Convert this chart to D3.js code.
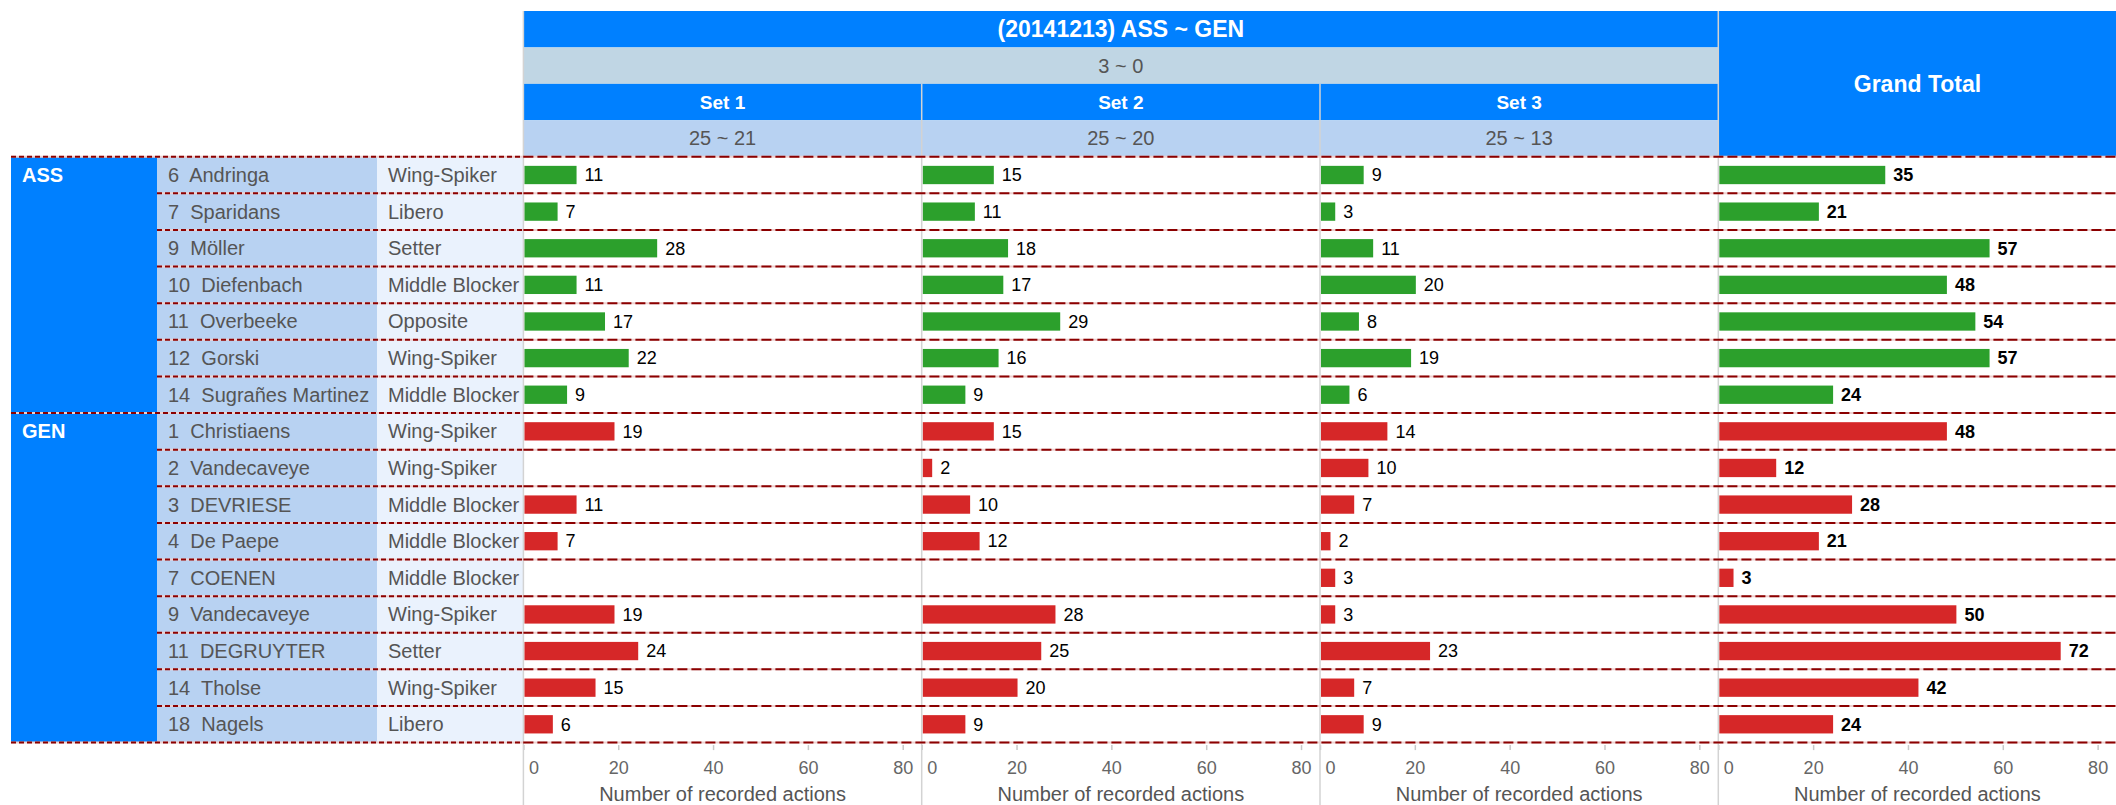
<!DOCTYPE html>
<html lang="en">
<head>
<meta charset="UTF-8">
<title>ASS ~ GEN recorded actions</title>
<script src="https://d3js.org/d3.v7.min.js"></script>
<style>
    body { margin: 0; background: #fff; }
    svg { display: block; font-family: "Liberation Sans", Arial, sans-serif; }
    .cell-text { fill: #555; font-size: 20px; white-space: pre; }
    .head-bold { fill: #fff; font-weight: bold; }
    .row-line { fill: none; stroke: #8b0000; stroke-width: 2px; }
    .row-under { fill: none; stroke: #efcfcf; stroke-width: 2px; }
    .sep { stroke: #d3d3d3; stroke-width: 1.5px; }
</style>
</head>
<body>
<div id="chart"></div>
<script>
    // match info
    var matchTitle = "(20141213) ASS ~ GEN";
    var matchScore = "3 ~ 0";
    var setNames = ["Set 1", "Set 2", "Set 3"];
    var setScores = ["25 ~ 21", "25 ~ 20", "25 ~ 13"];
    var totalName = "Grand Total";

    // roster
    var teams = ["ASS", "GEN"];
    var playerTeam = ["ASS", "ASS", "ASS", "ASS", "ASS", "ASS", "ASS",
                      "GEN", "GEN", "GEN", "GEN", "GEN", "GEN", "GEN", "GEN", "GEN"];
    var players = ["6  Andringa", "7  Sparidans", "9  Möller", "10  Diefenbach", "11  Overbeeke",
                   "12  Gorski", "14  Sugrañes Martinez",
                   "1  Christiaens", "2  Vandecaveye", "3  DEVRIESE", "4  De Paepe", "7  COENEN",
                   "9  Vandecaveye", "11  DEGRUYTER", "14  Tholse", "18  Nagels"];
    var positions = ["Wing-Spiker", "Libero", "Setter", "Middle Blocker", "Opposite",
                     "Wing-Spiker", "Middle Blocker",
                     "Wing-Spiker", "Wing-Spiker", "Middle Blocker", "Middle Blocker", "Middle Blocker",
                     "Wing-Spiker", "Setter", "Wing-Spiker", "Libero"];

    // recorded actions (null = nothing recorded)
    var set1 = [11, 7, 28, 11, 17, 22, 9, 19, null, 11, 7, null, 19, 24, 15, 6];
    var set2 = [15, 11, 18, 17, 29, 16, 9, 15, 2, 10, 12, null, 28, 25, 20, 9];
    var set3 = [9, 3, 11, 20, 8, 19, 6, 14, 10, 7, 2, 3, 3, 23, 7, 9];
    var grandTotal = [35, 21, 57, 48, 54, 57, 24, 48, 12, 28, 21, 3, 50, 72, 42, 24];

    var axisTicks = [0, 20, 40, 60, 80];
    var axisTitle = "Number of recorded actions";

    var width = 2116, height = 805;
    var headTop = 11, rowTop = 156.7, rowBottom = 742.6;
    var teamX = 11, playerX = 157, posX = 377, panelX = 523.4;

    var teamColor = {ASS: "#2ca02c", GEN: "#d62728"};

    var panels = setNames.concat([totalName]);
    var panelValues = [set1, set2, set3, grandTotal];

    var svg = d3.select("#chart").append("svg")
        .attr("width", width)
        .attr("height", height);

    var y = d3.scaleBand().domain(d3.range(players.length)).range([rowTop, rowBottom]);
    var yBar = d3.scaleBand().domain(d3.range(players.length)).range([rowTop, rowBottom])
        .paddingInner(0.5).paddingOuter(0.25);
    var headRow = d3.scaleBand().domain([0, 1, 2, 3]).range([headTop, rowTop]);
    var panel = d3.scaleBand().domain(panels).range([panelX, panelX + 4 * 398.3]);
    var x = d3.scaleLinear().domain([0, 84]).range([0, panel.bandwidth()]);

    // ---- header ----
    var head = svg.append("g");
    var setsLeft = panel(setNames[0]), setsRight = panel(totalName);
    head.append("rect")
        .attr("x", setsLeft).attr("y", headRow(0))
        .attr("width", setsRight - setsLeft).attr("height", headRow.bandwidth())
        .attr("fill", "#0080ff");
    head.append("rect")
        .attr("x", setsLeft).attr("y", headRow(1))
        .attr("width", setsRight - setsLeft).attr("height", headRow.bandwidth())
        .attr("fill", "#c0d6e4");
    head.append("text")
        .attr("class", "head-bold")
        .attr("x", (setsLeft + setsRight) / 2).attr("y", headRow(0) + headRow.bandwidth() / 2)
        .attr("dy", "0.35em").attr("text-anchor", "middle")
        .style("font-size", "23px")
        .text(matchTitle);
    head.append("text")
        .attr("class", "cell-text")
        .attr("x", (setsLeft + setsRight) / 2).attr("y", headRow(1) + headRow.bandwidth() / 2)
        .attr("dy", "0.35em").attr("text-anchor", "middle")
        .text(matchScore);

    setNames.forEach(function(s, i) {
        head.append("rect")
            .attr("x", panel(s)).attr("y", headRow(2))
            .attr("width", panel.bandwidth()).attr("height", headRow.bandwidth())
            .attr("fill", "#0080ff");
        head.append("rect")
            .attr("x", panel(s)).attr("y", headRow(3))
            .attr("width", panel.bandwidth()).attr("height", headRow.bandwidth())
            .attr("fill", "#b8d2f2");
        head.append("text")
            .attr("class", "head-bold")
            .attr("x", panel(s) + panel.bandwidth() / 2).attr("y", headRow(2) + headRow.bandwidth() / 2)
            .attr("dy", "0.35em").attr("text-anchor", "middle")
            .style("font-size", "19px")
            .text(s);
        head.append("text")
            .attr("class", "cell-text")
            .attr("x", panel(s) + panel.bandwidth() / 2).attr("y", headRow(3) + headRow.bandwidth() / 2)
            .attr("dy", "0.35em").attr("text-anchor", "middle")
            .text(setScores[i]);
    });

    head.append("rect")
        .attr("x", panel(totalName)).attr("y", headTop)
        .attr("width", panel.bandwidth()).attr("height", rowTop - headTop)
        .attr("fill", "#0080ff");
    head.append("text")
        .attr("class", "head-bold")
        .attr("x", panel(totalName) + panel.bandwidth() / 2).attr("y", (headTop + rowTop) / 2)
        .attr("dy", "0.35em").attr("text-anchor", "middle")
        .style("font-size", "23px")
        .text(totalName);

    // ---- label columns ----
    var cols = svg.append("g");
    cols.selectAll("rect.player")
        .data(players)
        .join("rect")
        .attr("class", "player")
        .attr("x", playerX).attr("y", (d, i) => y(i))
        .attr("width", posX - playerX).attr("height", y.bandwidth() + 0.5)
        .attr("fill", "#b8d2f2");
    cols.selectAll("rect.pos")
        .data(positions)
        .join("rect")
        .attr("class", "pos")
        .attr("x", posX).attr("y", (d, i) => y(i))
        .attr("width", panelX - posX).attr("height", y.bandwidth() + 0.5)
        .attr("fill", "#eaf2fd");

    teams.forEach(function(t) {
        var idx = d3.range(players.length).filter(i => playerTeam[i] === t);
        var first = d3.min(idx), last = d3.max(idx);
        cols.append("rect")
            .attr("x", teamX).attr("y", y(first))
            .attr("width", playerX - teamX).attr("height", y(last) + y.bandwidth() - y(first))
            .attr("fill", "#0080ff");
        cols.append("text")
            .attr("class", "head-bold")
            .attr("x", teamX + 11).attr("y", y(first) + y.bandwidth() / 2)
            .attr("dy", "0.35em")
            .style("font-size", "20px")
            .text(t);
    });

    cols.selectAll("text.player")
        .data(players)
        .join("text")
        .attr("class", "cell-text player")
        .attr("x", playerX + 11).attr("y", (d, i) => y(i) + y.bandwidth() / 2)
        .attr("dy", "0.35em")
        .text(d => d);
    cols.selectAll("text.pos")
        .data(positions)
        .join("text")
        .attr("class", "cell-text pos")
        .attr("x", posX + 11).attr("y", (d, i) => y(i) + y.bandwidth() / 2)
        .attr("dy", "0.35em")
        .text(d => d);

    // ---- bar panels ----
    panels.forEach(function(p, k) {
        var g = svg.append("g").attr("transform", "translate(" + panel(p) + ",0)");
        var vals = panelValues[k];
        var rows = vals.map((v, i) => ({i: i, v: v})).filter(d => d.v != null);

        g.selectAll("rect")
            .data(rows)
            .join("rect")
            .attr("x", x(0) + 1)
            .attr("y", d => yBar(d.i))
            .attr("width", d => x(d.v) - x(0))
            .attr("height", yBar.bandwidth())
            .attr("fill", d => teamColor[playerTeam[d.i]]);

        g.selectAll("text.val")
            .data(rows)
            .join("text")
            .attr("class", "val")
            .attr("x", d => x(d.v) + 9)
            .attr("y", d => y(d.i) + y.bandwidth() / 2)
            .attr("dy", "0.35em")
            .style("font-size", "18px")
            .style("font-weight", p === totalName ? "bold" : "normal")
            .attr("fill", "#000")
            .text(d => d.v);

        var axis = g.append("g")
            .attr("transform", "translate(0," + (rowBottom + 2.5) + ")")
            .call(d3.axisBottom(x).tickValues(axisTicks).tickSize(5).tickPadding(11));
        axis.select(".domain").remove();
        axis.selectAll(".tick line").attr("stroke", "#c8c8c8").attr("stroke-width", 1.5);
        axis.selectAll(".tick text")
            .attr("fill", "#666")
            .style("font-size", "18px")
            .style("font-family", "'Liberation Sans', Arial, sans-serif")
            .filter(d => d === 0)
            .attr("text-anchor", "start")
            .attr("x", 5);

        g.append("text")
            .attr("x", panel.bandwidth() / 2).attr("y", 801)
            .attr("text-anchor", "middle")
            .attr("fill", "#555")
            .style("font-size", "20px")
            .text(axisTitle);
    });

    // ---- separators ----
    var seps = svg.append("g");
    panels.forEach(function(p) {
        var top = (p === setNames[0] || p === totalName) ? headTop : headRow(2);
        seps.append("line")
            .attr("class", "sep")
            .attr("x1", panel(p)).attr("x2", panel(p))
            .attr("y1", top).attr("y2", height);
    });

    // dashed row boundaries
    var bounds = d3.range(players.length + 1);
    var lines = svg.append("g");
    bounds.forEach(function(b) {
        var yy = b < players.length ? y(b) : rowBottom;
        var groupEdge = b === 0 || b === players.length || playerTeam[b] !== playerTeam[b - 1];
        var x0 = groupEdge ? teamX : playerX;
        lines.append("line").attr("class", "row-under")
            .attr("x1", x0).attr("x2", width).attr("y1", yy).attr("y2", yy);
        lines.append("line").attr("class", "row-line")
            .attr("x1", x0).attr("x2", panelX).attr("y1", yy).attr("y2", yy)
            .attr("stroke-dasharray", "5,3");
        lines.append("line").attr("class", "row-line")
            .attr("x1", panelX).attr("x2", width).attr("y1", yy).attr("y2", yy)
            .attr("stroke-dasharray", "10,4");
    });
</script>
</body>
</html>
